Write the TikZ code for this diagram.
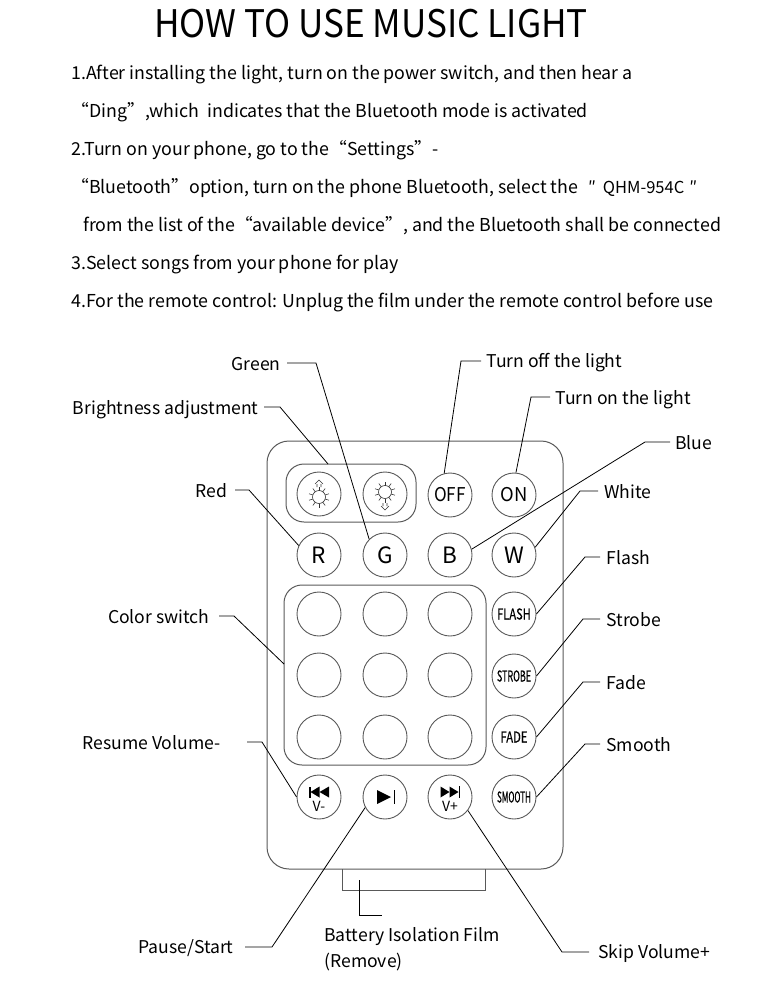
\documentclass[tikz,border=0pt]{standalone}
\usepackage{fontspec}
\setmainfont{Noto Sans CJK SC}
\newfontfamily\btnfont[FakeBold=0.4]{Noto Sans CJK SC}
\newcommand{\btxt}[2]{\scalebox{#1}[1]{#2}}
\tikzset{
  pic/.style={x=1pt,y=-1pt,line width=0.8pt},
  body/.style={draw=black!65,line width=1pt},
  btn/.style={circle,draw=black!65,line width=0.9pt,minimum size=44pt,inner sep=0pt,font=\fontsize{19}{19}\selectfont},
  small btn/.style={btn,font=\fontsize{15}{15}\selectfont\btnfont},
  big btn/.style={btn,font=\fontsize{22.5}{22.5}\selectfont},
  para/.style={anchor=base west,inner sep=0pt,font=\fontsize{17.8}{17.8}\selectfont},
  lab/.style={inner sep=0pt,font=\fontsize{17.6}{17.6}\selectfont},
  lead/.style={draw=black,line width=0.8pt},
  ray/.style={draw=black!80,line width=0.6pt},
}
\begin{document}
\begin{tikzpicture}[pic]
\useasboundingbox (0,0) rectangle (777,984);
\node[inner sep=0pt,font=\fontsize{38}{38}\selectfont] (title) at (371,24) {\btxt{.925}{HOW TO USE MUSIC LIGHT}};
\node[para] (s1) at (71,79.5) {1.After installing the light, turn on the power switch, and then hear a};
\node[para] (s2) at (71,117.5) {“Ding”,which\ \ indicates that the Bluetooth mode is activated};
\node[para] (s3) at (71,155.5) {2.Turn on your phone, go to the“Settings”-};
\node[para] (s4) at (71,193.5) {“Bluetooth”option, turn on the phone Bluetooth, select the{\fontsize{16.5}{16.5}\selectfont\hspace{10pt}″\hspace{7pt}QHM-954C\hspace{5pt}″}};
\node[para] (s5) at (83,231.5) {from the list of the“available device”, and the Bluetooth shall be connected};
\node[para] (s6) at (71,269.5) {3.Select songs from your phone for play};
\node[para] (s7) at (71,307.5) {4.For the remote control: Unplug the film under the remote control before use};
% remote body
\draw[body,rounded corners=22pt] (267,441) rectangle (563,869);
\draw[body] (342,869) -- (342,890) -- (485,890) -- (485,869);
\node[draw=black!65,line width=1pt,rounded corners=18pt,minimum width=130pt,minimum height=58pt,inner sep=0pt] (bright) at (351,493) {};
\node[draw=black!65,line width=1pt,rounded corners=18pt,minimum width=202pt,minimum height=180pt,inner sep=0pt] (colors) at (385,675) {};
% buttons
\node[btn] (dn) at (319,494) {};
\node[btn] (up) at (385,494) {};
\node[btn] (off) at (450,495) {\btxt{.9}{OFF}};
\node[btn] (on) at (514,495) {\btxt{.97}{ON}};
\node[big btn] (r) at (319,555) {R};
\node[big btn] (g) at (385,555) {G};
\node[big btn] (b) at (450,555) {B};
\node[big btn] (w) at (514,555) {W};
\foreach \cx/\cn in {319/a,385/b,450/c}
  \foreach \cy/\cm in {614/1,675/2,737/3}
    \node[btn] (c\cn\cm) at (\cx,\cy) {};
\node[small btn] (flash) at (514,614) {\btxt{.74}{FLASH}};
\node[small btn] (strobe) at (514,676) {\btxt{.6}{STROBE}};
\node[small btn] (fade) at (514,737) {\btxt{.75}{FADE}};
\node[small btn] (smooth) at (514,797) {\btxt{.54}{SMOOTH}};
\node[btn] (prev) at (319,797) {};
\node[btn] (play) at (385,797) {};
\node[btn] (next) at (450,797) {};
% sun icons
\draw[ray] (319,497) circle (6.5);
\draw[ray] (385,492) circle (6.5);
\foreach \ang in {18,54,...,342} {
  \draw[ray] (319,497) ++(\ang:6.5) -- ++(\ang:4);
  \draw[ray] (385,492) ++(\ang:6.5) -- ++(\ang:4);
}
\draw[ray] (315,484) -- (319,480) -- (323,484) (317,484) -- (317,487) (321,487) -- (321,484);
\draw[ray] (381,506) -- (385,510) -- (389,506) (383,506) -- (383,503) (387,503) -- (387,506);
% transport icons
\fill (309,786.5) rectangle (310.5,798);
\fill (310.5,792) -- (319.5,786.5) -- (319.5,797.5) -- cycle;
\fill (319.5,792) -- (329,786.5) -- (329,797.5) -- cycle;
\node[inner sep=0pt,font=\fontsize{14}{14}\selectfont] (vm) at (319,806.5) {V-};
\fill (377,790) -- (391,797) -- (377,804) -- cycle;
\fill (393.5,790) rectangle (395,804);
\fill (440.5,786.5) -- (449.5,792) -- (440.5,797.5) -- cycle;
\fill (449.5,786.5) -- (458.5,792) -- (449.5,797.5) -- cycle;
\fill (458.5,786) rectangle (460,798);
\node[inner sep=0pt,font=\fontsize{14}{14}\selectfont] (vp) at (450,806.5) {V+};
% labels
\node[lab,anchor=east] (lgreen) at (281,364) {Green};
\node[lab,anchor=east] (lbright) at (259,409.5) {Brightness adjustment};
\node[lab,anchor=west] (loff) at (486,363) {Turn off the light};
\node[lab,anchor=west] (lon) at (555,399.5) {Turn on the light};
\node[lab,anchor=west] (lblue) at (675,443) {Blue};
\node[lab,anchor=east] (lred) at (228,491) {Red};
\node[lab,anchor=west] (lwhite) at (604,492) {White};
\node[lab,anchor=west] (lflash) at (606,558) {Flash};
\node[lab,anchor=west] (lstrobe) at (606,620) {Strobe};
\node[lab,anchor=west] (lfade) at (606,683) {Fade};
\node[lab,anchor=west] (lsmooth) at (606,745) {Smooth};
\node[lab,anchor=east] (lcolor) at (210,617) {Color switch};
\node[lab,anchor=east] (lresume) at (221,743) {Resume Volume-};
\node[lab,anchor=east] (lpause) at (234,948) {Pause/Start};
\node[lab,anchor=west] (lskip) at (598,953) {Skip Volume+};
\node[lab,anchor=north west,align=left,font=\fontsize{17.6}{26}\selectfont] (lfilm) at (324,927) {Battery Isolation Film\\(Remove)};
% leader lines
\coordinate (kfilm) at (359,880);
\coordinate (kfilmend) at (382,915);
\coordinate (kbright) at (328,464);
\coordinate (kcolor) at (284,664);
\draw[lead] (lgreen.east) ++(6,-1) -- (316,363) -- (g.north west);
\draw[lead] (lbright.east) ++(5,-2.5) -- (280,407) -- (kbright);
\draw[lead] (loff.west) ++(-5,-2) -- (461,361) -- (off.105);
\draw[lead] (lon.west) ++(-5,-2.5) -- (531,397) -- (on.85);
\draw[lead] (lblue.west) ++(-5,-1) -- (645,442) -- (b.15);
\draw[lead] (lred.east) ++(7,-1) -- (249,490) -- (r.155);
\draw[lead] (lwhite.west) ++(-6,-1) -- (580,491) -- (w.20);
\draw[lead] (lflash.west) ++(-6,-1) -- (585,557) -- (flash.east);
\draw[lead] (lstrobe.west) ++(-6,-1) -- (583,619) -- (strobe.east);
\draw[lead] (lfade.west) ++(-6,-1) -- (583,682) -- (fade.east);
\draw[lead] (lsmooth.west) ++(-6,-1) -- (585,744) -- (smooth.east);
\draw[lead] (lcolor.east) ++(9,-1) -- (234,616) -- (kcolor);
\draw[lead] (lresume.east) ++(26,-1) -- (262,742) -- (prev.west);
\draw[lead] (lpause.east) ++(11,-1) -- (272,947) -- (play.208);
\draw[lead] (lskip.west) ++(-9,-1) -- (562,952) -- (next.-37);
\draw[lead] (kfilm) -- (359,915) -- (kfilmend);
\end{tikzpicture}
\end{document}
